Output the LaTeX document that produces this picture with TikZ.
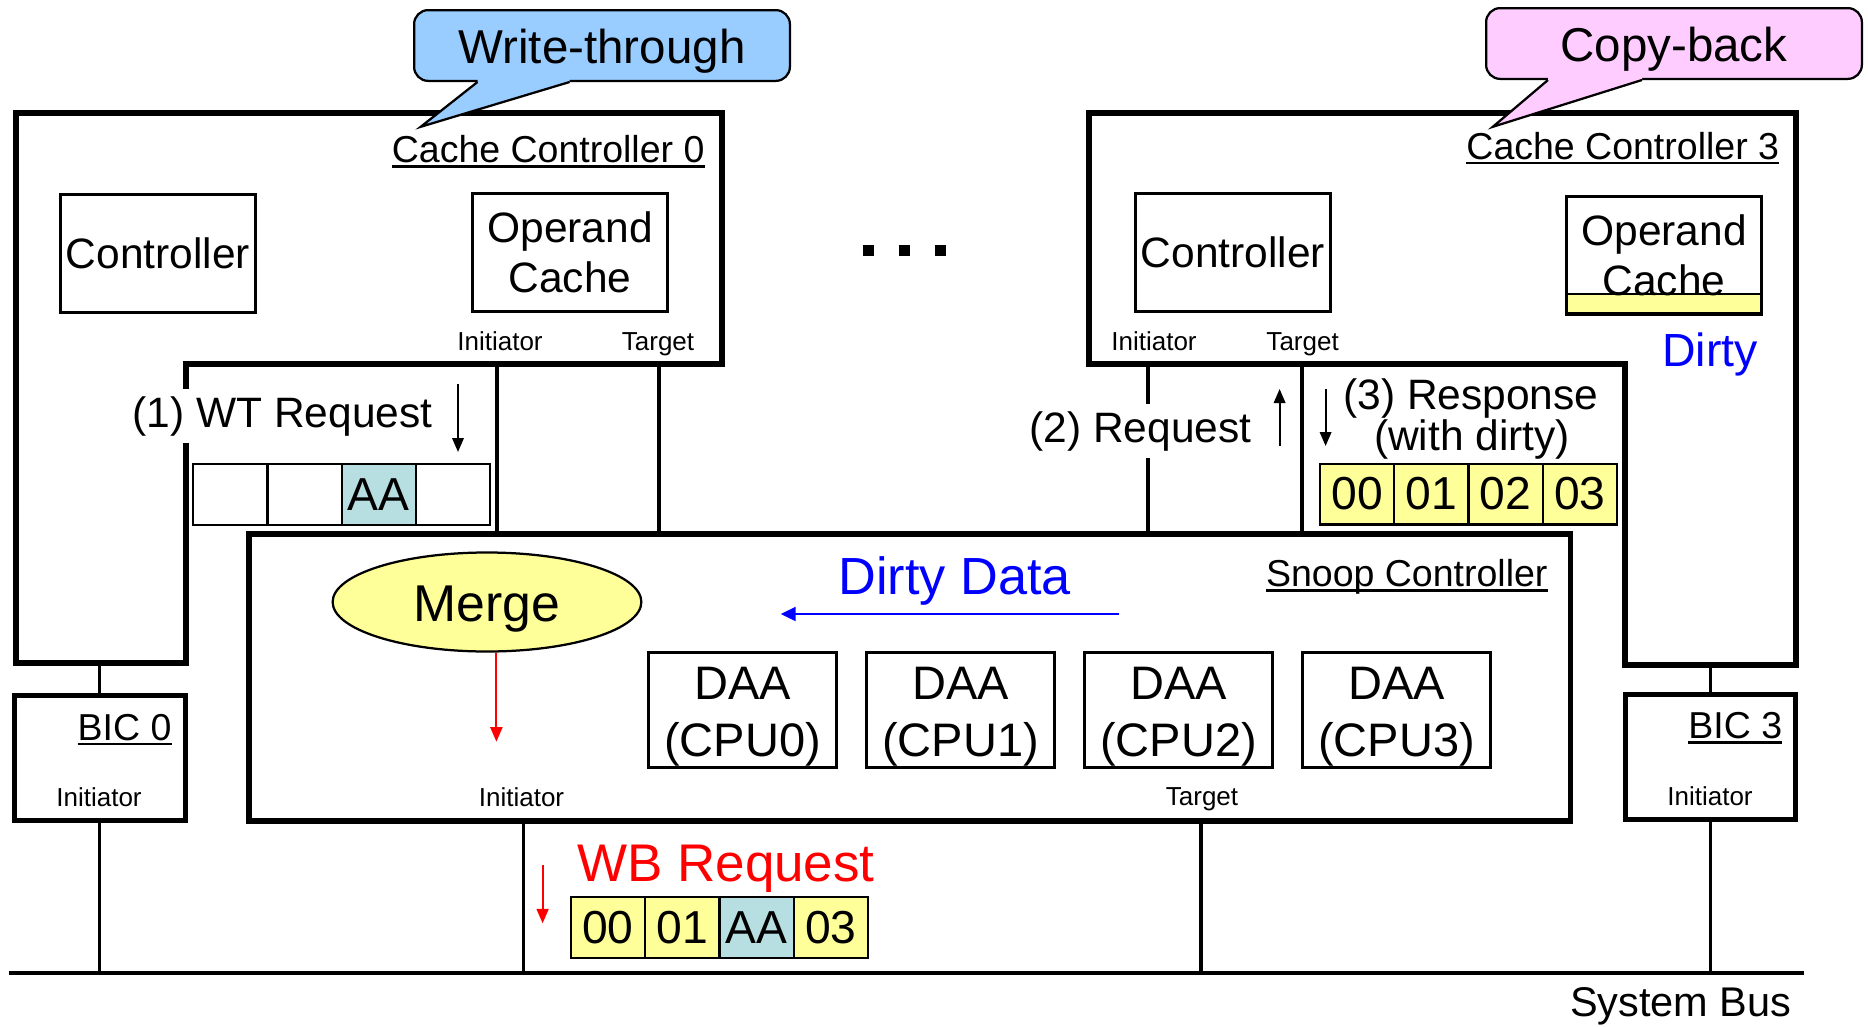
\documentclass[tikz,border=0pt]{standalone}
\usepackage{fontspec}
\setmainfont{Liberation Sans}
\usetikzlibrary{positioning, arrows.meta, shapes.geometric}

\definecolor{cellyel}{RGB}{255,255,153}
\definecolor{cellaa}{RGB}{183,222,224}
\definecolor{wtblue}{RGB}{153,204,255}
\definecolor{cbpink}{RGB}{255,204,255}

% underline that sits just under the baseline
\newcommand{\ulbl}[1]{\sbox0{#1}\rlap{\rule[-2.1pt]{\wd0}{1.1pt}}\usebox0}

\begin{document}
\begin{tikzpicture}[x=0.4pt, y=-0.4pt,
  every node/.append style={inner sep=0pt},
  outerln/.style={line width=2.4pt},
  blk/.style={draw, line width=1.3pt, minimum width=77.9pt, minimum height=47.1pt, align=center, font=\fontsize{17}{20}\selectfont},
  daa/.style={draw, line width=1.2pt, minimum width=75pt, minimum height=46pt, align=center, font=\fontsize{18.8}{22.7}\selectfont},
  cell/.style={draw, line width=0.9pt, minimum width=29.7pt, minimum height=24.3pt, outer sep=0pt, font=\fontsize{18.5}{20}\selectfont},
  port/.style={font=\fontsize{10.4}{12}\selectfont, anchor=base},
  ttl/.style={font=\fontsize{15}{18}\selectfont, anchor=base east},
  lbl/.style={font=\fontsize{17}{20}\selectfont},
  conn/.style={line width=1.3pt},
  arr/.style={line width=0.8pt, -{Triangle[length=5.6pt, width=4.6pt]}},
  bubble/.style={draw, line width=0.9pt, rounded corners=5.6pt, minimum width=150.3pt, minimum height=28.3pt, font=\fontsize{19}{22}\selectfont, text height=14.6pt, text depth=0pt}
]
\useasboundingbox (0,0) rectangle (1868,1027);

% system bus
\coordinate (busL) at (9,972.7);
\coordinate (busR) at (1804,972.7);
\draw[line width=1.5pt] (busL) -- (busR);
\node[font=\fontsize{16.6}{20}\selectfont, anchor=base east] (buslbl) at (1792,1016.7) {System Bus};

% snoop controller
\node[draw, line width=2.2pt, minimum width=528.6pt, minimum height=114.9pt] (snoop) at (909.6,677.6) {};
\node[ttl] (snooplbl) at (1548,586.7) {\ulbl{Snoop Controller}};
\node[ellipse, draw, fill=cellyel, line width=0.9pt, minimum width=123.5pt, minimum height=39.6pt,
  font=\fontsize{20.7}{24}\selectfont, text height=20.2pt, text depth=4.4pt] (merge) at (487,602) {Merge};
\node[daa] (daa0) at (742.5,709.5) {\rule{0pt}{18.5pt}DAA\\(CPU0)};
\foreach \i [remember=\i as \j (initially 0)] in {1,2,3}
  \node[daa, right=11pt of daa\j] (daa\i) {\rule{0pt}{18.5pt}DAA\\(CPU\i)};
\node[font=\fontsize{20.9}{24}\selectfont, text=blue, anchor=base west] (ddlbl) at (838,594) {Dirty Data};
\coordinate (dd1) at (1119,614);
\coordinate (dd2) at (780.7,614);
\draw[arr, blue, -{Triangle[length=6pt, width=5.6pt]}] (dd1) -- (dd2);
\coordinate (mergeout) at (496.4,741.7);
\draw[arr, red, -{Triangle[length=5.8pt, width=4.8pt]}] (merge.south -| mergeout) -- (mergeout);
\node[port] (snil) at (521.5,806.7) {Initiator};
\node[port] (sntl) at (1202,805) {Target};
\coordinate (sni) at (523.4,972.7);
\coordinate (snt) at (1201,972.7);
\draw[conn] (sni |- snoop.south) -- (sni);
\draw[conn] (snt |- snoop.south) -- (snt);

% write-back request
\coordinate (wb1) at (542.6,865);
\coordinate (wb2) at (542.6,923.3);
\draw[arr, red, -{Triangle[length=5.8pt, width=4.8pt]}] (wb1) -- (wb2);
\node[font=\fontsize{21.2}{24}\selectfont, text=red, anchor=base west] (wblbl) at (576.7,881.7) {WB Request};
\node[cell, fill=cellyel] (wbc1) at (608,927.5) {00};
\node[cell, fill=cellyel, right=0pt of wbc1] (wbc2) {01};
\node[cell, fill=cellaa, right=0pt of wbc2] (wbc3) {AA};
\node[cell, fill=cellyel, right=0pt of wbc3] (wbc4) {03};

% cache controller 0
\draw[outerln] (15.5,112.5) -- (722,112.5) -- (722,363.5) -- (186,363.5) -- (186,663.3) -- (15.5,663.3) -- cycle;
\node[ttl] (cc0lbl) at (705,162.5) {\ulbl{Cache Controller 0}};
\node[blk] (ctl0) at (158,253.5) {Controller};
\node[blk] (oc0) at (570,252.5) {Operand\\Cache};
\node[port] (cc0il) at (500,350) {Initiator};
\node[port] (cc0tl) at (658,350) {Target};
\coordinate (cc0i) at (497,363.5);
\coordinate (cc0t) at (659,363.5);
\draw[conn] (cc0i) -- (cc0i |- snoop.north);
\draw[conn] (cc0t) -- (cc0t |- snoop.north);
\node[lbl, fill=white, inner ysep=3pt, anchor=base west] (wtreq) at (132,427) {(1) WT Request};
\coordinate (wta1) at (458,384);
\coordinate (wta2) at (458,452);
\draw[arr] (wta1) -- (wta2);
\node[cell] (wtc1) at (230.3,494.3) {};
\node[cell, right=0pt of wtc1] (wtc2) {};
\node[cell, fill=cellaa, right=0pt of wtc2] (wtc3) {AA};
\node[cell, right=0pt of wtc3] (wtc4) {};

% cache controller 3
\draw[outerln] (1088.5,112.5) -- (1796,112.5) -- (1796,665) -- (1624.5,665) -- (1624.5,364) -- (1088.5,364) -- cycle;
\node[ttl] (cc3lbl) at (1779.6,159) {\ulbl{Cache Controller 3}};
\node[blk] (ctl3) at (1233,252.5) {Controller};
\node[blk, path picture={\draw[fill=cellyel, line width=1pt] (path picture bounding box.south west) rectangle ([yshift=8pt]path picture bounding box.south east);}] (oc3) at (1664,255) {Operand\\Cache};
\node[font=\fontsize{18.6}{20}\selectfont, text=blue, anchor=base west] (dirty) at (1661.7,366) {Dirty};
\node[port] (cc3il) at (1154,350) {Initiator};
\node[port] (cc3tl) at (1302.6,350) {Target};
\coordinate (cc3i) at (1148,364);
\coordinate (cc3t) at (1302,364);
\draw[conn] (cc3i) -- (cc3i |- snoop.north);
\draw[conn] (cc3t) -- (cc3t |- snoop.north);
\node[lbl, fill=white, inner ysep=3pt, anchor=base east] (req2) at (1252,442) {(2) Request};
\coordinate (up1) at (1279.6,446);
\coordinate (up2) at (1279.6,389);
\draw[arr] (up1) -- (up2);
\coordinate (dn1) at (1325.6,389);
\coordinate (dn2) at (1325.6,446);
\draw[arr] (dn1) -- (dn2);
\node[lbl, anchor=base] (resp) at (1471,409) {(3) Response};
\node[lbl, anchor=base] (respw) at (1472,450.7) {(with dirty)};
\node[cell, fill=cellyel] (rsc1) at (1357.2,494) {00};
\node[cell, fill=cellyel, right=0pt of rsc1] (rsc2) {01};
\node[cell, fill=cellyel, right=0pt of rsc2] (rsc3) {02};
\node[cell, fill=cellyel, right=0pt of rsc3] (rsc4) {03};

% dots between the controllers
\foreach \dx [count=\i] in {868.7, 904.3, 940}
  \node[fill, minimum size=4.4pt] (dot\i) at (\dx,250) {};

% bus interface controllers
\node[draw, line width=2pt, minimum width=68.4pt, minimum height=50pt] (bic0) at (99.8,757.6) {};
\node[ttl] (bic0lbl) at (172,740) {\ulbl{BIC 0}};
\node[port] (bic0il) at (99,806.7) {Initiator};
\coordinate (cc0b) at (99.8,663.3);
\draw[conn] (cc0b) -- (bic0.north);
\draw[conn] (bic0.south) -- (bic0.south |- busL);
\node[draw, line width=2pt, minimum width=67.9pt, minimum height=49.7pt] (bic3) at (1710.8,757.1) {};
\node[ttl] (bic3lbl) at (1782.7,738.3) {\ulbl{BIC 3}};
\node[port] (bic3il) at (1710,805) {Initiator};
\coordinate (cc3b) at (1710.8,665);
\draw[conn] (cc3b) -- (bic3.north);
\draw[conn] (bic3.south) -- (bic3.south |- busR);

% callouts
\node[bubble, fill=wtblue] (wt) at (602,45.5) {Write-through};
\coordinate (wttip) at (420.7,126.8);
\fill[wtblue] (477.5,78) -- (477.5,82) -- (wttip) -- (569.6,82) -- (569.6,78) -- cycle;
\draw[line width=0.9pt] (477.5,82) -- (wttip) -- (569.6,82);
\node[bubble, fill=cbpink] (cb) at (1674,43.5) {Copy-back};
\coordinate (cbtip) at (1492.8,126.8);
\fill[cbpink] (1548,76) -- (1548,80) -- (cbtip) -- (1642,80) -- (1642,76) -- cycle;
\draw[line width=0.9pt] (1548,80) -- (cbtip) -- (1642,80);
\end{tikzpicture}
\end{document}
